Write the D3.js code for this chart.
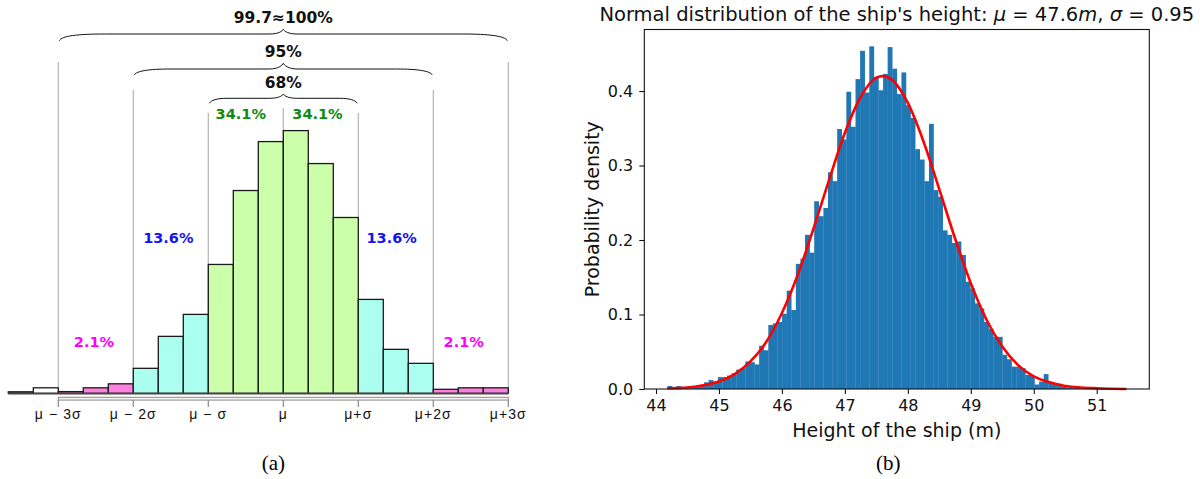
<!DOCTYPE html>
<html lang="en">
<head>
<meta charset="UTF-8">
<title>Normal distribution</title>
<script src="https://d3js.org/d3.v7.min.js"></script>
<style>
  body { margin: 0; background: #fff; }
</style>
</head>
<body>
<div id="chart"></div>
<script>
// ---- panel (a): idealised histogram, 20 bins of sigma/3 ----
var aCounts = [1.5, 5.5, 1.7, 5.5, 9.5, 25, 57, 79, 129, 203, 252, 263, 230, 176, 94, 44, 30, 4, 5.5, 5.5];
var aColors = ["#bdbdbd", "#ffffff", "#ff80e0", "#ff80e0", "#ff80e0",
               "#aaffee", "#aaffee", "#aaffee",
               "#ccffaa", "#ccffaa", "#ccffaa", "#ccffaa", "#ccffaa", "#ccffaa",
               "#aaffee", "#aaffee", "#aaffee",
               "#ff80e0", "#ff80e0", "#ff80e0"];
var aTicks = [-3, -2, -1, 0, 1, 2, 3];
var aTickLabels = ["\u03bc \u2212 3\u03c3", "\u03bc \u2212 2\u03c3", "\u03bc \u2212 \u03c3", "\u03bc", "\u03bc+\u03c3", "\u03bc+2\u03c3", "\u03bc+3\u03c3"];
var braceSpans = [3, 2, 1];
var braceLabels = ["99.7\u2248100%", "95%", "68%"];
var pctLabels = ["34.1%", "34.1%", "13.6%", "13.6%", "2.1%", "2.1%"];
var pctPos = [-0.567, 0.456, -1.533, 1.445, -2.525, 2.405];

// ---- panel (b): ship height histogram (density), 100 bins ----
var histLo = 44.18, histHi = 51.47;
var density = [
  0.004, 0.000, 0.004, 0.002, 0.001, 0.001, 0.003, 0.004, 0.009, 0.012,
  0.010, 0.016, 0.016, 0.018, 0.021, 0.026, 0.028, 0.037, 0.036, 0.033,
  0.058, 0.052, 0.086, 0.088, 0.090, 0.101, 0.132, 0.106, 0.168, 0.175,
  0.207, 0.183, 0.252, 0.232, 0.243, 0.291, 0.279, 0.349, 0.335, 0.399,
  0.352, 0.416, 0.454, 0.398, 0.460, 0.419, 0.401, 0.423, 0.459, 0.430,
  0.396, 0.425, 0.381, 0.364, 0.322, 0.308, 0.279, 0.356, 0.267, 0.258,
  0.213, 0.207, 0.196, 0.198, 0.180, 0.144, 0.135, 0.115, 0.108, 0.090,
  0.081, 0.070, 0.070, 0.046, 0.040, 0.030, 0.030, 0.028, 0.019, 0.018,
  0.006, 0.010, 0.020, 0.009, 0.008, 0.007, 0.003, 0.002, 0.001, 0.001,
  0.000, 0.001, 0.000, 0.000, 0.000, 0.000, 0.000, 0.000, 0.000, 0.001
];
var curveX = [44.18, 44.5, 44.75, 45.0, 45.25, 45.5, 45.75, 46.0, 46.25, 46.5, 46.75, 47.0, 47.25, 47.5, 47.6,
              47.75, 48.0, 48.25, 48.5, 48.75, 49.0, 49.25, 49.5, 49.75, 50.0, 50.25, 50.5, 50.75, 51.0, 51.47];
var curveY = [0.001, 0.002, 0.005, 0.010, 0.020, 0.037, 0.063, 0.102, 0.153, 0.215, 0.281, 0.344, 0.392, 0.418, 0.420,
              0.415, 0.384, 0.332, 0.268, 0.202, 0.142, 0.093, 0.057, 0.032, 0.017, 0.009, 0.004, 0.002, 0.001, 0.000];
var bXTicks = [44, 45, 46, 47, 48, 49, 50, 51];
var bYTicks = [0.0, 0.1, 0.2, 0.3, 0.4];

var svg = d3.select("#chart").append("svg")
    .attr("width", 1200)
    .attr("height", 479)
    .style("font-family", "'DejaVu Sans', sans-serif");

// =============== panel (a) ===============
var xA = d3.scaleLinear().domain([-3, 3]).range([58.3, 508.3]);
var yA = d3.scaleLinear().domain([0, 263]).range([393.3, 130.6]);
var gA = svg.append("g");

var lineTops = [62, 90, 113, 108, 113, 90, 62];
gA.selectAll(".vline").data(aTicks).enter().append("line")
    .attr("x1", function(d) { return xA(d); })
    .attr("x2", function(d) { return xA(d); })
    .attr("y1", function(d, i) { return lineTops[i]; })
    .attr("y2", 393)
    .attr("stroke", "#b4b4b4")
    .attr("stroke-width", 1.2);

// axis strip
gA.append("rect")
    .attr("x", xA(-3)).attr("y", 397.3)
    .attr("width", xA(3) - xA(-3)).attr("height", 2.8)
    .attr("fill", "#f4f4f4").attr("stroke", "#8a8a8a").attr("stroke-width", 1);
gA.selectAll(".atick").data(aTicks).enter().append("line")
    .attr("x1", function(d) { return xA(d); })
    .attr("x2", function(d) { return xA(d); })
    .attr("y1", 400).attr("y2", 407)
    .attr("stroke", "#8a8a8a").attr("stroke-width", 1.2);
gA.selectAll(".alab").data(aTickLabels).enter().append("text")
    .attr("x", function(d, i) { return xA(aTicks[i]); })
    .attr("y", 419)
    .attr("text-anchor", "middle")
    .style("font-family", "'Liberation Sans', Arial, sans-serif")
    .style("font-size", "14px")
    .style("letter-spacing", "1.1px")
    .attr("fill", "#111")
    .text(function(d) { return d; });

// bars
gA.selectAll(".abar").data(aCounts).enter().append("rect")
    .attr("x", function(d, i) { return xA(-11 / 3 + i / 3); })
    .attr("width", xA(1 / 3) - xA(0))
    .attr("y", function(d) { return yA(d); })
    .attr("height", function(d) { return yA(0) - yA(d); })
    .attr("fill", function(d, i) { return aColors[i]; })
    .attr("stroke", "#1a1a1a")
    .attr("stroke-width", 1.3);
gA.append("line")
    .attr("x1", xA(-11 / 3)).attr("x2", xA(3))
    .attr("y1", 393.6).attr("y2", 393.6)
    .attr("stroke", "#444").attr("stroke-width", 1.6);

// braces
var braceY = [[40.7, 34, 29.3], [75, 69, 63.3], [103.3, 98.3, 94]];
var braceTextY = [22.7, 56.7, 87.7];
function bracePath(x0, x1, ye, ym, yp) {
  var xc = (x0 + x1) / 2, w = Math.min(45, (x1 - x0) * 0.12), w2 = 14;
  return "M" + x0 + "," + ye +
    " C" + (x0 + 2) + "," + (ym + 2) + " " + (x0 + w * 0.4) + "," + ym + " " + (x0 + w) + "," + ym +
    " L" + (xc - w2) + "," + ym +
    " C" + (xc - 5) + "," + ym + " " + (xc - 1) + "," + (yp + 2) + " " + xc + "," + yp +
    " C" + (xc + 1) + "," + (yp + 2) + " " + (xc + 5) + "," + ym + " " + (xc + w2) + "," + ym +
    " L" + (x1 - w) + "," + ym +
    " C" + (x1 - w * 0.4) + "," + ym + " " + (x1 - 2) + "," + (ym + 2) + " " + x1 + "," + ye;
}
braceSpans.forEach(function(k, i) {
  gA.append("path")
      .attr("d", bracePath(xA(-k) + 1, xA(k) - 1, braceY[i][0], braceY[i][1], braceY[i][2]))
      .attr("fill", "none")
      .attr("stroke", "#111")
      .attr("stroke-width", 1);
  gA.append("text")
      .attr("x", xA(0))
      .attr("y", braceTextY[i])
      .attr("text-anchor", "middle")
      .style("font-weight", "bold")
      .style("font-size", "15.5px")
      .attr("fill", "#111")
      .text(braceLabels[i]);
});

var pctColors = ["#108a10", "#108a10", "#1414f0", "#1414f0", "#ff00ff", "#ff00ff"];
var pctY = [119, 119, 243.3, 243.3, 346.7, 346.7];
gA.selectAll(".pct").data(pctLabels).enter().append("text")
    .attr("x", function(d, i) { return xA(pctPos[i]); })
    .attr("y", function(d, i) { return pctY[i]; })
    .attr("text-anchor", "middle")
    .style("font-weight", "bold")
    .style("font-size", "14.5px")
    .attr("fill", function(d, i) { return pctColors[i]; })
    .text(function(d) { return d; });

svg.append("text")
    .attr("x", 273.3).attr("y", 470)
    .attr("text-anchor", "middle")
    .style("font-family", "'Liberation Serif', 'DejaVu Serif', serif")
    .style("font-size", "21px")
    .text("(a)");

// =============== panel (b) ===============
var bLeft = 644.3, bRight = 1149.3, bTop = 29.5, bBottom = 389;
var xB = d3.scaleLinear().domain([43.814, 51.835]).range([bLeft, bRight]);
var yB = d3.scaleLinear().domain([0, 0.4826]).range([bBottom, bTop]);
var gB = svg.append("g");
var bw = (histHi - histLo) / density.length;

gB.selectAll(".bbar").data(density).enter().append("rect")
    .attr("x", function(d, i) { return xB(histLo + i * bw); })
    .attr("width", xB(histLo + bw) - xB(histLo) + 0.25)
    .attr("y", function(d) { return yB(d); })
    .attr("height", function(d) { return yB(0) - yB(d); })
    .attr("fill", "#1f77b4");

var line = d3.line()
    .x(function(d, i) { return xB(curveX[i]); })
    .y(function(d) { return yB(d); })
    .curve(d3.curveMonotoneX);
gB.append("path")
    .attr("d", line(curveY))
    .attr("fill", "none")
    .attr("stroke", "#ff0000")
    .attr("stroke-width", 2.6);

// frame
gB.append("rect")
    .attr("x", bLeft).attr("y", bTop)
    .attr("width", bRight - bLeft).attr("height", bBottom - bTop)
    .attr("fill", "none").attr("stroke", "#111").attr("stroke-width", 1.1);

var xAxis = d3.axisBottom(xB).tickValues(bXTicks).tickSize(5).tickPadding(6).tickFormat(d3.format("d"));
var gx = gB.append("g").attr("transform", "translate(0," + bBottom + ")").call(xAxis);
var yAxis = d3.axisLeft(yB).tickValues(bYTicks).tickSize(5).tickPadding(6).tickFormat(d3.format(".1f"));
var gy = gB.append("g").attr("transform", "translate(" + bLeft + ",0)").call(yAxis);
[gx, gy].forEach(function(g) {
  g.select(".domain").remove();
  g.selectAll("line").attr("stroke", "#111").attr("stroke-width", 1.1);
  g.selectAll("text").style("font-family", "'DejaVu Sans', sans-serif").style("font-size", "16px").attr("fill", "#111");
});

gB.append("text")
    .attr("x", (bLeft + bRight) / 2).attr("y", 437)
    .attr("text-anchor", "middle")
    .style("font-size", "19px")
    .attr("fill", "#111")
    .text("Height of the ship (m)");
gB.append("text")
    .attr("transform", "translate(599," + ((bTop + bBottom) / 2) + ") rotate(-90)")
    .attr("text-anchor", "middle")
    .style("font-size", "19px")
    .attr("fill", "#111")
    .text("Probability density");

var title = gB.append("text")
    .attr("x", (bLeft + bRight) / 2).attr("y", 21)
    .attr("text-anchor", "middle")
    .style("font-size", "19.5px")
    .attr("fill", "#111");
title.append("tspan").text("Normal distribution of the ship's height: ");
title.append("tspan").style("font-style", "italic").text("\u03bc");
title.append("tspan").text(" = 47.6");
title.append("tspan").style("font-style", "italic").text("m");
title.append("tspan").text(", ");
title.append("tspan").style("font-style", "italic").text("\u03c3");
title.append("tspan").text(" = 0.95");

svg.append("text")
    .attr("x", 888.3).attr("y", 470)
    .attr("text-anchor", "middle")
    .style("font-family", "'Liberation Serif', 'DejaVu Serif', serif")
    .style("font-size", "21px")
    .text("(b)");
</script>
</body>
</html>
